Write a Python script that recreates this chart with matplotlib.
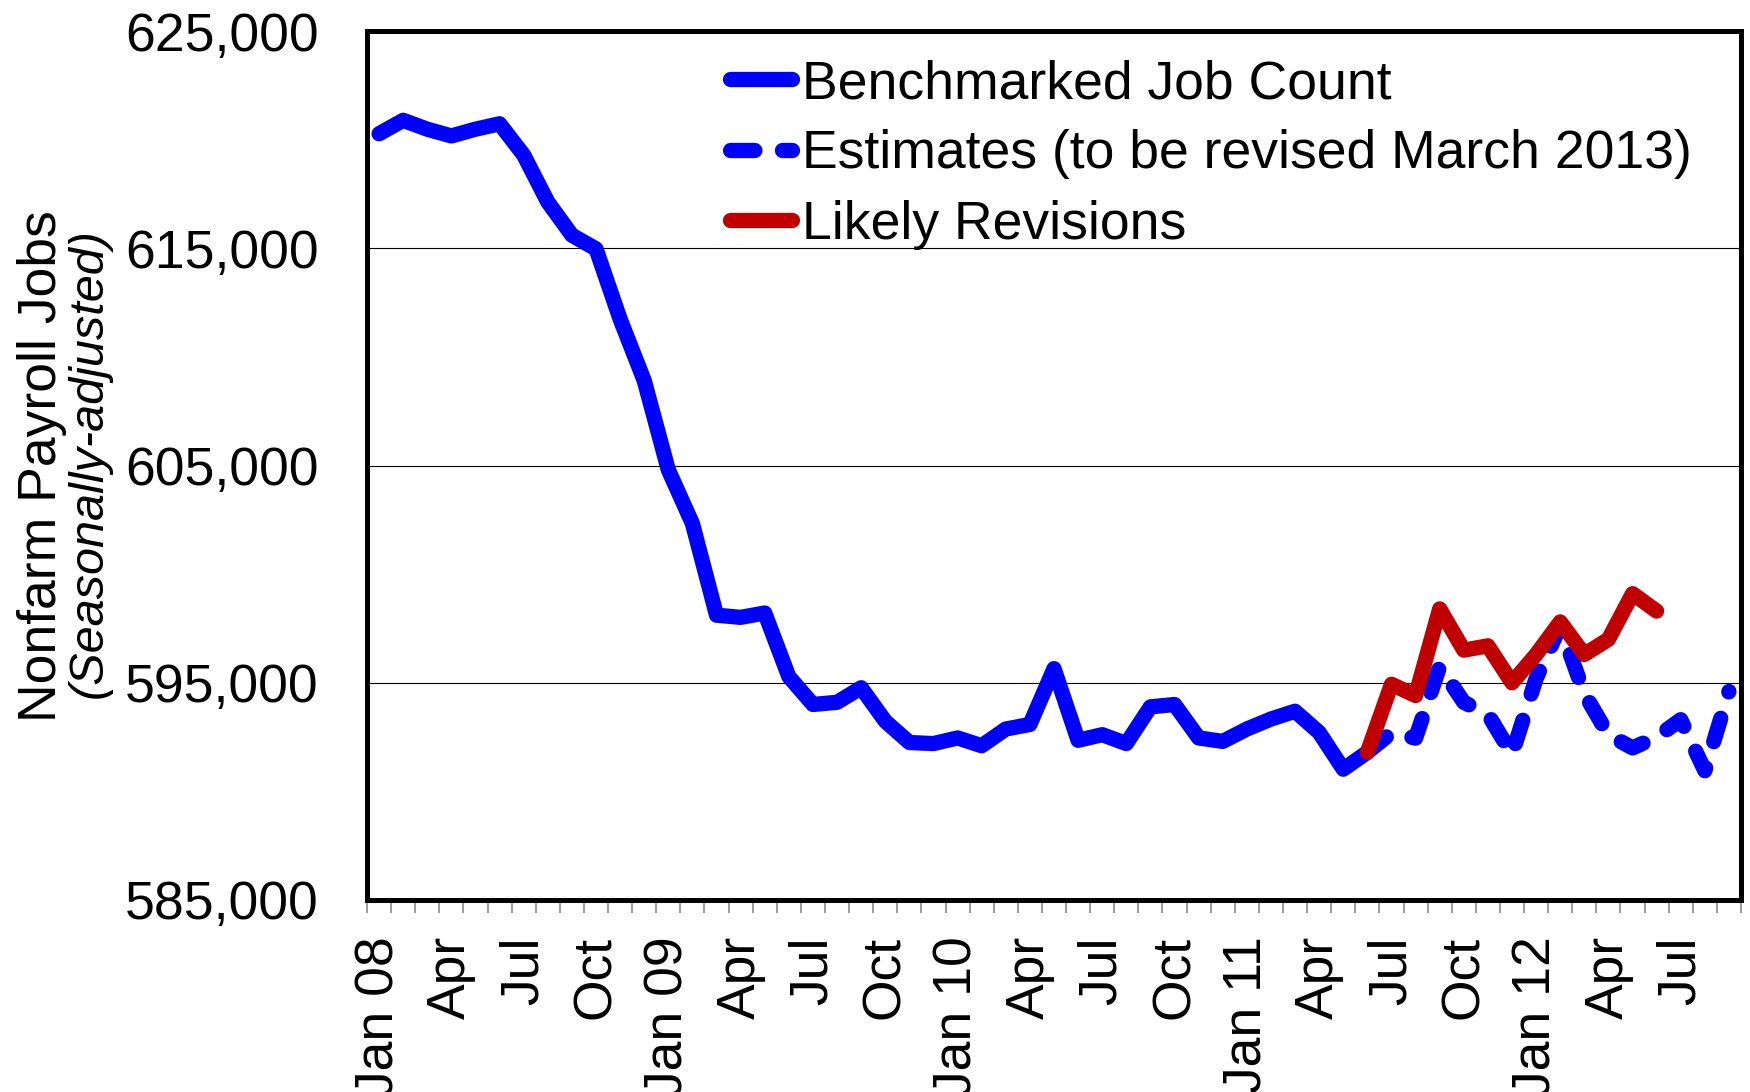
import numpy as np
import matplotlib
matplotlib.use("Agg")
import matplotlib.pyplot as plt
from matplotlib.ticker import FixedLocator, FuncFormatter

# Month categories, Jan 2008 to Sep 2012
MONTHS = ["Jan", "Feb", "Mar", "Apr", "May", "Jun", "Jul", "Aug", "Sep", "Oct", "Nov", "Dec"]
categories = [f"{MONTHS[m]} {y:02d}" for y in range(8, 13) for m in range(12)][:57]

# Benchmarked job count, Jan 08 to Jun 11
benchmarked = [620270, 620890, 620480, 620170, 620480, 620730, 619290, 617130, 615600, 614970,
               611740, 608910, 604800, 602330, 598110, 598010, 598210, 595280, 594000, 594100,
               594770, 593230, 592250, 592200, 592460, 592100, 592870, 593080, 595650, 592350,
               592610, 592200, 593890, 594000, 592460, 592300, 592870, 593330, 593690, 592710,
               591020, 591800]

# Estimates, Jun 11 to Sep 12
estimates = [591800, 592700, 592450, 595750, 594100, 593550, 591700, 595200, 597600, 594500,
             592600, 592000, 592500, 593300, 590950, 594600]

# Likely revisions, Jun 11 to Jun 12
revisions = [591800, 594930, 594410, 598400, 596500, 596700, 595000, 596300, 597800, 596300,
             597000, 599100, 598300]

yticks = [585000, 595000, 605000, 615000, 625000]

FONT = ["Liberation Sans", "DejaVu Sans"]
plt.rcParams["font.family"] = FONT
FS = 38.5

fig = plt.figure(figsize=(17.5, 10.92), dpi=100)
ax = fig.add_axes([367 / 1750, 1 - 900 / 1092, (1741 - 367) / 1750, (900 - 31) / 1092])

x_bench = np.arange(len(benchmarked))
start = len(benchmarked) - 1
x_est = np.arange(start, start + len(estimates))
x_rev = np.arange(start, start + len(revisions))

lw = 11
ax.plot(x_bench, benchmarked, color="#0000FF", lw=lw, solid_capstyle="round",
        solid_joinstyle="round", label="Benchmarked Job Count", zorder=3)
ax.plot(x_est, estimates, color="#0000FF", lw=lw, dashes=(1.6, 1.8), dash_capstyle="round",
        dash_joinstyle="round", label="Estimates (to be revised March 2013)", zorder=3)
ax.plot(x_rev, revisions, color="#C00000", lw=lw, solid_capstyle="round",
        solid_joinstyle="round", label="Likely Revisions", zorder=4)

# Axis limits and grid
ax.set_xlim(-0.5, len(categories) - 0.5)
ax.set_ylim(585000, 625000)
ax.set_yticks(yticks)
ax.yaxis.set_major_formatter(FuncFormatter(lambda v, p: f"{int(v):,}"))
ax.grid(axis="y", color="black", lw=0.8)
ax.set_axisbelow(True)

# Category axis: tick marks between months, labels every quarter
ax.xaxis.set_minor_locator(FixedLocator(np.arange(-0.5, len(categories), 1.0)))
quarter_idx = list(range(0, len(categories), 3))
ax.set_xticks(quarter_idx)
ax.set_xticklabels([categories[i] if categories[i].startswith("Jan") else categories[i][:3]
                    for i in quarter_idx], rotation=90, fontsize=FS)
ax.tick_params(axis="x", which="major", length=0, pad=26)
ax.tick_params(axis="x", which="minor", length=9.5, width=1.1, color="#808080", direction="out")
ax.tick_params(axis="y", length=0, pad=35, labelsize=FS)

for s in ax.spines.values():
    s.set_linewidth(3.6)
    s.set_color("black")

# Axis title, two lines in different styles
fig.text(42 / 1750, 1 - 466 / 1092, "Nonfarm Payroll Jobs", rotation=90, ha="center",
         va="center", fontsize=38.5)
fig.text(89 / 1750, 1 - 463 / 1092, "(Seasonally-adjusted)", rotation=90, ha="center",
         va="center", fontsize=35, style="italic")

# Legend
ax.legend(loc="upper left", bbox_to_anchor=((722 - 367) / 1374, 0.977), frameon=False,
          fontsize=FS, handlelength=1.15, handletextpad=0.2, borderpad=0.15,
          borderaxespad=0, labelspacing=0.38)

fig.savefig("out.png", dpi=100)
